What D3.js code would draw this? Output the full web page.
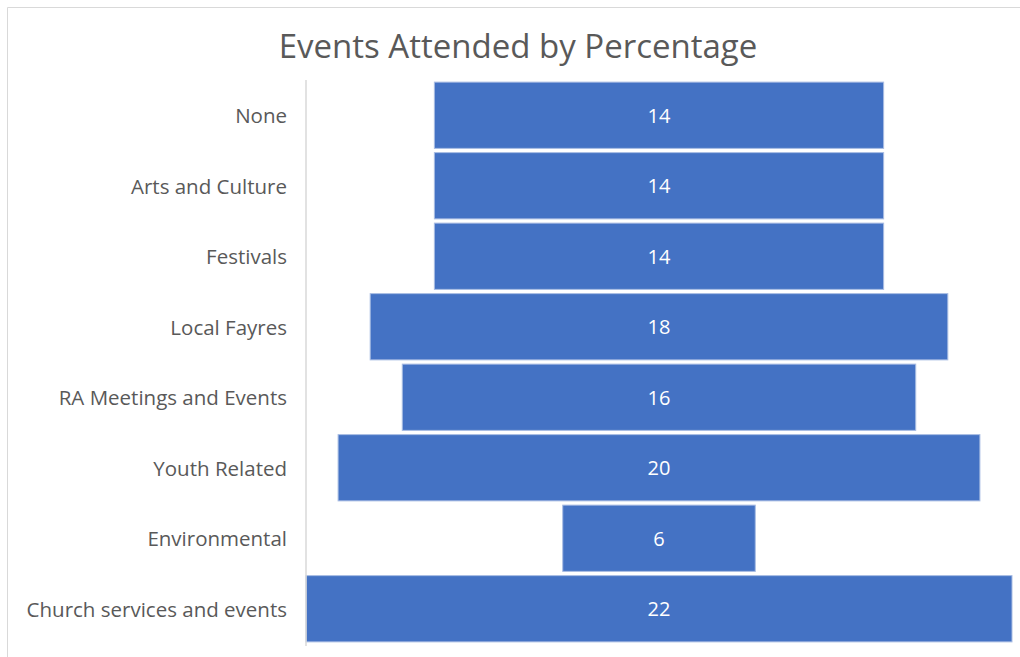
<!DOCTYPE html>
<html lang="en">
<head>
  <meta charset="UTF-8">
  <title>Events Attended by Percentage</title>
  <script src="https://d3js.org/d3.v7.min.js"></script>
  <style>
    body, html {
      margin: 0;
      padding: 0;
      background: #fff;
    }
    svg {
      display: block;
      font-family: "Open Sans", sans-serif;
    }
    .title {
      font-size: 33px;
      fill: #595959;
      text-anchor: middle;
    }
    .cat-label {
      font-family: "Open Sans", sans-serif;
      font-size: 20.5px;
      fill: #595959;
      text-anchor: end;
    }
    .value-label {
      font-size: 20px;
      fill: #fff;
      text-anchor: middle;
    }
  </style>
</head>
<body>
  <svg id="chart" width="1020" height="657"></svg>

  <script>
    // Categories top to bottom, as in the chart
    const categories = [
      "None",
      "Arts and Culture",
      "Festivals",
      "Local Fayres",
      "RA Meetings and Events",
      "Youth Related",
      "Environmental",
      "Church services and events"
    ];

    // Percentage attended
    const values = [14, 14, 14, 18, 16, 20, 6, 22];

    const width = 1020;
    const height = 657;

    const svg = d3.select("#chart");

    // chart frame (cropped on the right and bottom)
    svg.append("path")
      .attr("d", `M7.5,${height} V7.5 H${width}`)
      .attr("fill", "none")
      .attr("stroke", "#d9d9d9")
      .attr("stroke-width", 1);

    svg.append("text")
      .attr("class", "title")
      .attr("x", 518)
      .attr("y", 58)
      .text("Events Attended by Percentage");

    // funnel: bars centred on the middle of the plot
    const maxVal = d3.max(values);
    const x = d3.scaleLinear()
      .domain([-maxVal / 2, maxVal / 2])
      .range([306, 1012]);

    const y = d3.scaleBand()
      .domain(categories)
      .range([80, 644])
      .paddingInner(0.06)
      .paddingOuter(0.03);

    const rows = categories.map((c, i) => ({ label: c, value: values[i] }));

    svg.selectAll(".bar")
      .data(rows)
      .enter().append("rect")
      .attr("class", "bar")
      .attr("x", d => x(-d.value / 2))
      .attr("y", d => y(d.label))
      .attr("width", d => x(d.value / 2) - x(-d.value / 2))
      .attr("height", y.bandwidth())
      .attr("fill", "#4472c4")
      .attr("stroke", "#a9bde3")
      .attr("stroke-width", 1);

    svg.selectAll(".value-label")
      .data(rows)
      .enter().append("text")
      .attr("class", "value-label")
      .attr("x", x(0))
      .attr("y", d => y(d.label) + y.bandwidth() / 2)
      .attr("dy", "0.38em")
      .text(d => d.value);

    // vertical category axis
    const yAxis = svg.append("g")
      .attr("transform", "translate(306,0)")
      .call(d3.axisLeft(y).tickSize(0).tickPadding(19))
      .attr("font-family", null)
      .attr("font-size", null);

    yAxis.select(".domain")
      .attr("stroke", "#d9d9d9")
      .attr("stroke-width", 1.5)
      .attr("d", "M0,80V646");

    yAxis.selectAll("text")
      .attr("class", "cat-label")
      .attr("fill", null)
      .attr("dy", "0.38em");
  </script>
</body>
</html>
